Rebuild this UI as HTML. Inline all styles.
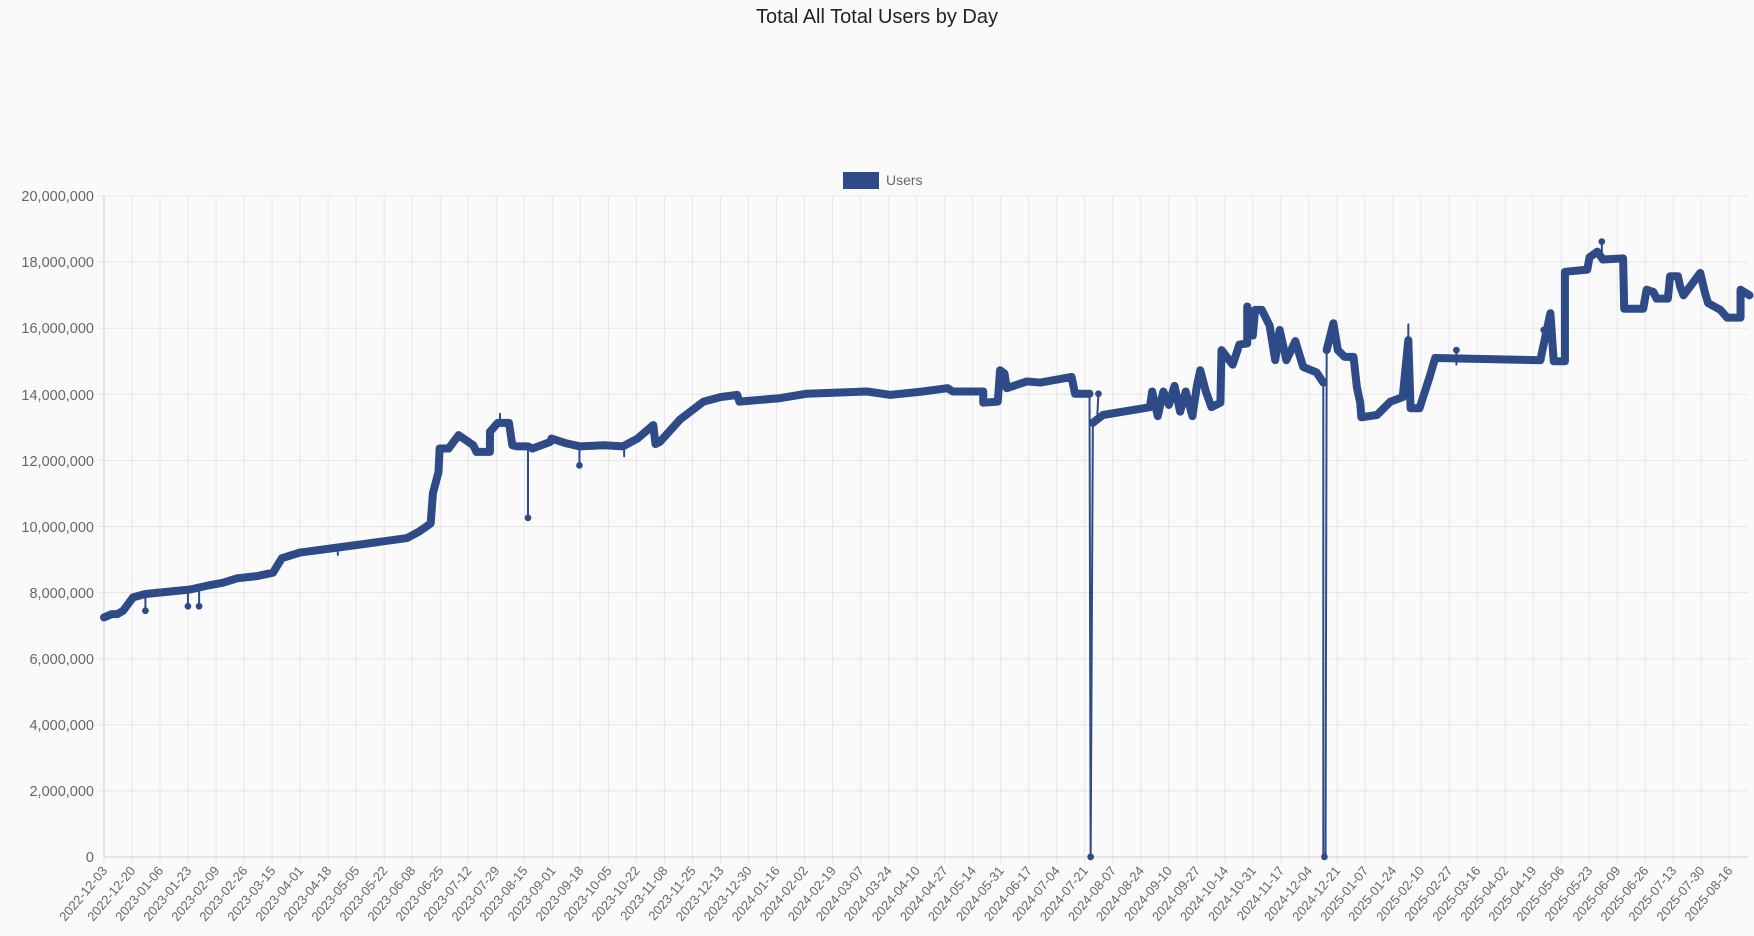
<!DOCTYPE html>
<html><head><meta charset="utf-8"><style>
html,body{margin:0;padding:0;background:#fafafa;}
svg{display:block;font-family:"Liberation Sans",sans-serif;}
</style></head><body>
<svg width="1754" height="936" viewBox="0 0 1754 936" xmlns="http://www.w3.org/2000/svg">
<defs>
<pattern id="vg" patternUnits="userSpaceOnUse" x="103.5" y="0" width="28.022" height="936">
<rect x="0" y="0" width="1" height="936" fill="#e6e6e6"/>
</pattern>
</defs>
<rect width="1754" height="936" fill="#fafafa"/>
<text x="877" y="23" text-anchor="middle" font-size="20" fill="#222">Total All Total Users by Day</text>
<rect x="843" y="172" width="36" height="17" fill="#2e4a87"/>
<text x="886" y="185" font-size="14" fill="#666">Users</text>
<rect x="103" y="196" width="1640" height="667" fill="url(#vg)"/>
<g stroke="#e6e6e6" stroke-width="1">
<line x1="98" y1="196" x2="1748" y2="196"/><line x1="98" y1="262.1" x2="1748" y2="262.1"/><line x1="98" y1="328.2" x2="1748" y2="328.2"/><line x1="98" y1="394.3" x2="1748" y2="394.3"/><line x1="98" y1="460.4" x2="1748" y2="460.4"/><line x1="98" y1="526.5" x2="1748" y2="526.5"/><line x1="98" y1="592.6" x2="1748" y2="592.6"/><line x1="98" y1="658.7" x2="1748" y2="658.7"/><line x1="98" y1="724.8" x2="1748" y2="724.8"/><line x1="98" y1="790.9" x2="1748" y2="790.9"/>
</g>
<g font-size="14.5" fill="#666" text-anchor="end">
<text x="94" y="862">0</text><text x="94" y="796">2,000,000</text><text x="94" y="730">4,000,000</text><text x="94" y="664">6,000,000</text><text x="94" y="598">8,000,000</text><text x="94" y="532">10,000,000</text><text x="94" y="466">12,000,000</text><text x="94" y="400">14,000,000</text><text x="94" y="333">16,000,000</text><text x="94" y="267">18,000,000</text><text x="94" y="201">20,000,000</text>
</g>
<g font-size="13" fill="#666" text-anchor="end">
<text transform="translate(108,871) rotate(-50)">2022-12-03</text>
<text transform="translate(136,871) rotate(-50)">2022-12-20</text>
<text transform="translate(164,871) rotate(-50)">2023-01-06</text>
<text transform="translate(192.1,871) rotate(-50)">2023-01-23</text>
<text transform="translate(220.1,871) rotate(-50)">2023-02-09</text>
<text transform="translate(248.1,871) rotate(-50)">2023-02-26</text>
<text transform="translate(276.1,871) rotate(-50)">2023-03-15</text>
<text transform="translate(304.2,871) rotate(-50)">2023-04-01</text>
<text transform="translate(332.2,871) rotate(-50)">2023-04-18</text>
<text transform="translate(360.2,871) rotate(-50)">2023-05-05</text>
<text transform="translate(388.2,871) rotate(-50)">2023-05-22</text>
<text transform="translate(416.2,871) rotate(-50)">2023-06-08</text>
<text transform="translate(444.3,871) rotate(-50)">2023-06-25</text>
<text transform="translate(472.3,871) rotate(-50)">2023-07-12</text>
<text transform="translate(500.3,871) rotate(-50)">2023-07-29</text>
<text transform="translate(528.3,871) rotate(-50)">2023-08-15</text>
<text transform="translate(556.4,871) rotate(-50)">2023-09-01</text>
<text transform="translate(584.4,871) rotate(-50)">2023-09-18</text>
<text transform="translate(612.4,871) rotate(-50)">2023-10-05</text>
<text transform="translate(640.4,871) rotate(-50)">2023-10-22</text>
<text transform="translate(668.4,871) rotate(-50)">2023-11-08</text>
<text transform="translate(696.5,871) rotate(-50)">2023-11-25</text>
<text transform="translate(724.5,871) rotate(-50)">2023-12-13</text>
<text transform="translate(752.5,871) rotate(-50)">2023-12-30</text>
<text transform="translate(780.5,871) rotate(-50)">2024-01-16</text>
<text transform="translate(808.6,871) rotate(-50)">2024-02-02</text>
<text transform="translate(836.6,871) rotate(-50)">2024-02-19</text>
<text transform="translate(864.6,871) rotate(-50)">2024-03-07</text>
<text transform="translate(892.6,871) rotate(-50)">2024-03-24</text>
<text transform="translate(920.6,871) rotate(-50)">2024-04-10</text>
<text transform="translate(948.7,871) rotate(-50)">2024-04-27</text>
<text transform="translate(976.7,871) rotate(-50)">2024-05-14</text>
<text transform="translate(1004.7,871) rotate(-50)">2024-05-31</text>
<text transform="translate(1032.7,871) rotate(-50)">2024-06-17</text>
<text transform="translate(1060.7,871) rotate(-50)">2024-07-04</text>
<text transform="translate(1088.8,871) rotate(-50)">2024-07-21</text>
<text transform="translate(1116.8,871) rotate(-50)">2024-08-07</text>
<text transform="translate(1144.8,871) rotate(-50)">2024-08-24</text>
<text transform="translate(1172.8,871) rotate(-50)">2024-09-10</text>
<text transform="translate(1200.9,871) rotate(-50)">2024-09-27</text>
<text transform="translate(1228.9,871) rotate(-50)">2024-10-14</text>
<text transform="translate(1256.9,871) rotate(-50)">2024-10-31</text>
<text transform="translate(1284.9,871) rotate(-50)">2024-11-17</text>
<text transform="translate(1312.9,871) rotate(-50)">2024-12-04</text>
<text transform="translate(1341,871) rotate(-50)">2024-12-21</text>
<text transform="translate(1369,871) rotate(-50)">2025-01-07</text>
<text transform="translate(1397,871) rotate(-50)">2025-01-24</text>
<text transform="translate(1425,871) rotate(-50)">2025-02-10</text>
<text transform="translate(1453.1,871) rotate(-50)">2025-02-27</text>
<text transform="translate(1481.1,871) rotate(-50)">2025-03-16</text>
<text transform="translate(1509.1,871) rotate(-50)">2025-04-02</text>
<text transform="translate(1537.1,871) rotate(-50)">2025-04-19</text>
<text transform="translate(1565.1,871) rotate(-50)">2025-05-06</text>
<text transform="translate(1593.2,871) rotate(-50)">2025-05-23</text>
<text transform="translate(1621.2,871) rotate(-50)">2025-06-09</text>
<text transform="translate(1649.2,871) rotate(-50)">2025-06-26</text>
<text transform="translate(1677.2,871) rotate(-50)">2025-07-13</text>
<text transform="translate(1705.3,871) rotate(-50)">2025-07-30</text>
<text transform="translate(1733.3,871) rotate(-50)">2025-08-16</text>
</g>
<line x1="104" y1="196" x2="104" y2="857" stroke="#d0d0d0"/>
<line x1="104" y1="857" x2="1748" y2="857" stroke="#d0d0d0"/>
<g transform="scale(1.1186)" fill="none" stroke="#2e4a87" stroke-linejoin="round" stroke-linecap="round">
<path vector-effect="non-scaling-stroke" stroke-width="2" d="M130,532V546 M168,527V542 M178,526V542 M302,489V496 M974,352L975,766L977,378 M981,370L982,352 M1183,342L1183,766L1185,766L1186,313 M1432,232V216 M1302,326V313 M472,399V463 M518,399V416 M558,399V408 M447,378V370 M1380,322V295 M1259,304V290"/>
<path vector-effect="non-scaling-stroke" stroke-width="8" d="M93,552 L100,549 L105,549 L110,546 L119,534 L130,531 L150,529 L170,527 L188,523 L199,521 L212,517 L230,515 L244,512 L252,499 L268,494 L298,490 L328,486 L342,484 L364,481 L375,475 L385,468 L387,441 L392,422 L393,401 L401,401 L410,389 L423,398 L426,404 L438,404 L438,386 L445,378 L455,378 L458,398 L462,399 L472,399 L476,401 L492,395 L493,392 L505,396 L518,399 L540,398 L557,399 L570,392 L584,380 L586,397 L590,395 L608,375 L629,359 L644,355 L659,353 L661,359 L697,356 L721,352 L775,350 L796,353 L825,350 L847,347 L852,350 L879,350 L879,360 L892,359 L894,331 L898,334 L900,347 L918,341 L930,342 L958,337 L961,352 L974,352 M977,378 L986,371 L1028,364 L1030,350 L1035,372 L1040,350 L1045,362 L1050,345 L1055,368 L1060,350 L1066,372 L1070,345 L1073,331 L1078,350 L1083,364 L1091,360 L1092,313 L1102,326 L1108,308 L1115,307 L1115,274 L1120,300 L1122,277 L1128,277 L1135,291 L1140,322 L1144,295 L1150,322 L1158,305 L1165,328 L1177,333 L1183,342 M1186,313 L1192,289 L1196,313 L1202,319 L1210,319 L1213,346 L1216,360 L1217,373 L1231,371 L1243,359 L1254,355 L1259,304 L1261,365 L1269,365 L1278,337 L1283,320 L1377,322 L1386,280 L1389,323 L1399,323 L1399,243 L1419,241 L1421,230 L1428,225 L1433,232 L1451,231 L1452,276 L1469,276 L1472,259 L1478,261 L1481,267 L1491,267 L1493,247 L1500,247 L1502,256 L1505,264 L1520,244 L1524,261 L1527,271 L1538,277 L1544,284 L1556,284 L1556,259 L1564,264"/>
<g fill="#2e4a87" stroke="none">
<circle cx="130" cy="546" r="3"/><circle cx="168" cy="542" r="3"/><circle cx="178" cy="542" r="3"/><circle cx="975" cy="766" r="3"/><circle cx="1184" cy="766" r="3"/><circle cx="982" cy="352" r="3"/><circle cx="1432" cy="216" r="3"/><circle cx="472" cy="463" r="3"/><circle cx="518" cy="416" r="3"/><circle cx="1302" cy="313" r="3"/><circle cx="1380" cy="295" r="3"/><circle cx="1259" cy="304" r="3"/><circle cx="1115" cy="274" r="3"/><circle cx="1386" cy="280" r="3"/>
</g>
</g>
</svg>
</body></html>
